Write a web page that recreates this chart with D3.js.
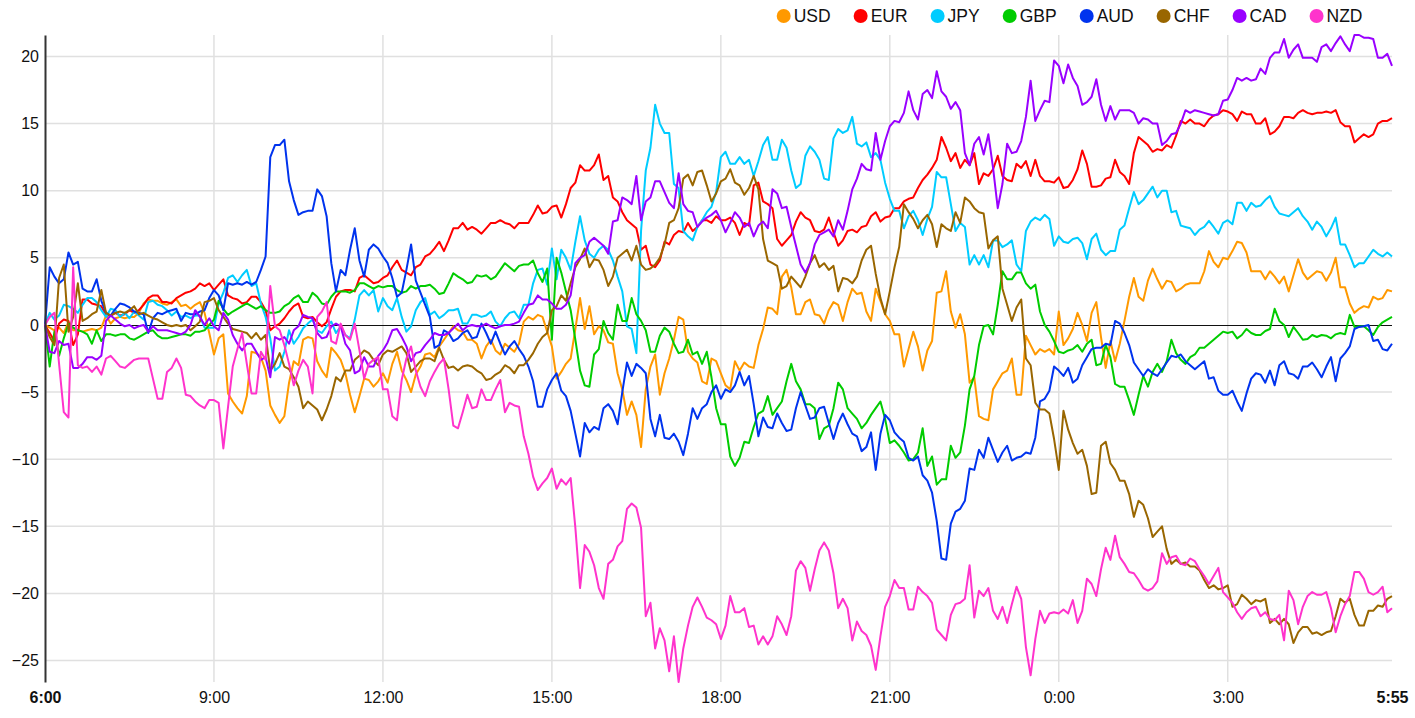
<!DOCTYPE html>
<html>
<head>
<meta charset="utf-8">
<script src="https://cdn.jsdelivr.net/npm/d3@7"></script>
<style>
  html, body { margin: 0; padding: 0; background: #ffffff; }
  svg { display: block; font-family: Arial, "Liberation Sans", Helvetica, sans-serif; }
</style>
</head>
<body>
<svg id="chart" width="1415" height="718"></svg>
<script>
// ---------- data ----------
const currencies = ["USD", "EUR", "JPY", "GBP", "AUD", "CHF", "CAD", "NZD"];
const startTime = "2024-01-01T06:00:00";
const stepMinutes = 5;
const xTickLabels = ["6:00", "9:00", "12:00", "15:00", "18:00", "21:00", "0:00", "3:00", "5:55"];
const yTickValues = [-25, -20, -15, -10, -5, 0, 5, 10, 15, 20];

const USD = [
  0,-0.2,-0.4,-0.2,-0.6,0.2,-0.4,-0.4,-0.5,-0.4,-0.3,-0.4,
  -0.2,0.7,0.1,0.5,0.6,0.5,0.6,0.6,0.9,1.6,1.9,1.8,
  1.8,1.6,1.5,1.7,1.9,1.4,1.5,1.2,1.5,1.7,0.9,-0.6,
  -2.2,-1.0,-0.7,-5.1,-5.7,-6.2,-6.6,-5.3,-2.0,-2.1,-2.4,-3.4,
  -6.0,-6.7,-7.3,-6.8,-4.3,-2.7,-3.0,-1.1,-0.9,-1.0,-2.7,-3.4,
  -3.9,-1.7,-2.1,-2.6,-3.6,-5.2,-6.5,-5.3,-4.0,-4.1,-4.6,-4.2,
  -3.6,-4.3,-2.9,-2.0,-3.4,-4.1,-5.0,-3.7,-3.1,-2.2,-2.1,-2.4,
  -1.6,-1.1,-0.6,-0.1,-0.4,-0.5,-1.1,-1.1,-1.4,-2.5,-1.6,-1.1,
  -1.9,-2.2,-1.4,-1.7,-2.0,-1.4,0.25,0.6,0.4,0.75,0.6,-0.5,
  -1.6,-4.0,-3.5,-2.9,-2.5,-0.3,2.0,-0.3,1.4,-0.7,-0.1,-0.4,
  -1.3,-1.4,-3.6,-4.8,-6.7,-5.7,-6.7,-9.1,-4.8,-3.1,-2.2,-5.2,
  -3.6,-2.5,-1.1,0.6,0.4,-2.0,-2.5,-2.8,-4.2,-4.4,-2.5,-2.7,
  -3.6,-4.5,-4.8,-2.7,-3.4,-2.8,-3.1,-3.2,-1.5,-0.3,1.3,1.2,
  0.8,3.6,4.1,2.8,0.8,0.8,1.7,1.9,0.8,0.7,0.1,1.1,
  1.7,1.5,0.3,1.7,2.7,2.3,2.4,1.0,0.3,2.7,1.8,0.8,
  0.3,-0.7,-0.7,-3.1,-1.8,-0.5,-1.6,-3.4,-1.9,-1.2,2.4,2.5,
  4.0,1.0,-0.2,0.8,-0.7,-4.3,-3.9,-6.8,-7.0,-7.1,-4.8,-4.2,
  -3.6,-3.4,-2.5,-5.2,-5.2,-0.8,-1.5,-2.2,-1.8,-2.0,-1.8,-2.2,
  1.0,-1.5,-1.0,-0.3,0.9,0,-1.2,0.9,1.7,-0.9,-3.2,-1.2,
  -2.7,-1.4,0.3,2.1,3.5,2.1,1.8,3.3,4.2,3.4,2.7,3.3,
  3.2,2.5,2.7,3.0,3.1,3.1,3.1,4.0,5.5,4.7,4.3,5.0,
  4.9,5.5,6.2,6.1,5.4,4.0,4.0,4.0,3.4,4.0,3.6,3.1,
  3.6,2.5,3.7,4.9,3.9,3.4,3.7,4.0,3.9,3.3,3.9,5.0,
  2.8,2.8,1.6,0.9,1.2,1.4,1.3,2.1,1.9,2.0,2.6,2.5
];

const EUR = [
  0,-0.6,-1.2,0.1,0.4,0.3,-1.5,-0.7,1.9,1.9,1.6,1.5,
  1.4,0.7,0.7,0.9,0.7,0.8,1.1,0.9,1.1,1.5,2.0,2.2,
  2.2,1.7,1.7,1.6,2.0,2.2,2.4,2.5,2.7,3.1,2.9,3.1,
  2.6,3.0,3.4,2.2,2.0,1.9,1.6,1.7,2.1,2.1,1.7,1.1,
  -0.4,-0.1,0.1,0.5,1.0,1.4,1.6,0.6,0.5,0.6,0.2,-0.1,
  0.2,1.2,2.1,2.5,2.6,2.6,2.5,3.5,3.7,3.4,3.1,3.2,
  3.5,3.7,4.3,4.8,4.1,3.9,3.7,4.3,4.5,5.1,5.3,5.7,
  6.2,5.5,6.3,7.2,7.2,7.6,7.1,7.3,7.1,6.8,7.2,7.6,
  7.6,7.8,7.6,7.5,7.2,7.6,7.6,7.6,8.2,8.9,8.3,8.4,
  8.8,8.9,8.0,9.0,10.2,10.6,11.9,11.5,11.5,11.9,12.7,10.8,
  11.1,9.5,9.2,8.4,7.8,7.5,7.2,5.6,5.9,4.5,4.3,4.8,
  6.2,6.0,6.7,7.0,6.9,7.6,7.0,7.3,7.8,7.8,7.6,8.1,
  7.8,7.8,8.0,7.6,6.7,7.6,7.4,10.4,10.6,9.2,9.0,8.7,
  6.4,5.9,6.3,6.7,7.7,8.4,8.0,7.8,7.0,6.9,7.1,8.0,
  6.9,5.9,6.3,7.0,7.1,6.9,7.3,7.4,8.1,8.4,7.7,8.0,
  8.1,8.7,8.7,9.2,9.4,9.5,10.2,10.8,11.2,11.7,12.3,14.0,
  13.2,12.2,12.8,11.7,12.3,11.9,12.8,10.5,11.3,11.1,11.6,12.6,
  11.1,10.8,10.7,12.0,11.7,12.2,11.1,12.3,11.1,10.7,10.7,10.6,
  11.0,10.2,10.3,10.8,11.6,13.0,12.0,10.3,10.3,10.4,10.9,11.0,
  12.3,11.4,11.1,10.5,12.8,14.0,13.7,13.4,12.9,13.1,13.0,13.4,
  13.2,14.1,15.2,15.0,15.3,15.0,15.0,14.8,15.3,15.6,15.7,16.0,
  15.9,15.7,15.2,15.9,15.7,15.7,15.0,15.0,15.4,14.2,14.4,14.8,
  15.5,15.5,15.4,15.8,16.0,15.8,15.7,15.8,15.8,15.9,15.8,16.0,
  15.1,14.8,14.8,13.6,13.9,14.2,14.0,14.2,15.0,15.2,15.2,15.4
];

const JPY = [
  0,0.9,0.4,0.7,1.5,1.4,1.2,0.9,1.5,2.0,2.0,1.7,
  1.1,0.6,1.2,1.1,0.6,0.9,0.5,1.0,0.7,0.4,1.7,1.8,
  1.5,1.4,1.1,0.7,1.0,0.6,0.7,0.5,0.7,0.7,-0.2,-0.2,
  -0.2,1.6,2.4,3.5,3.7,3.2,3.7,4.1,2.9,3.1,1.6,0.6,
  -1.0,-3.4,-3.1,-2.0,-0.4,-1.4,-0.9,-0.25,0.1,0.4,-0.4,-0.6,
  -0.1,0.25,-0.6,-0.1,-0.75,-1.0,0.4,2.2,2.6,2.2,2.6,1.0,
  2.0,1.4,1.1,2.0,0.6,-0.5,-0.1,1.1,1.7,2.0,0.75,1.0,
  0.5,0.75,1.1,1.1,1.2,0.1,0.1,0.75,0.75,0.6,0.7,1.0,
  0.25,-0.1,0.5,0.9,1.0,0.5,1.5,1.5,3.1,4.1,4.2,3.0,
  5.7,3.4,5.6,5.0,4.1,6.2,8.1,6.3,5.3,5.0,5.6,5.9,
  5.6,4.8,3.6,2.5,-0.1,-0.3,-2.1,7.0,11.5,13.2,16.4,15.0,
  14.3,14.3,10.5,10.2,7.0,6.6,6.3,7.3,7.8,8.4,8.8,9.9,
  12.5,12.9,12.0,12.0,12.5,12.0,12.3,11.1,12.2,13.4,14.0,12.3,
  12.3,13.8,13.2,11.5,10.2,10.5,12.6,13.3,12.9,12.3,10.9,10.8,
  13.9,14.6,14.3,14.5,15.5,13.5,13.3,13.6,12.5,12.8,12.3,10.6,
  9.4,8.5,8.5,7.2,8.1,8.5,7.8,6.7,7.9,8.8,11.4,11.0,
  11.0,9.0,7.0,7.6,7.3,4.5,5.2,4.5,5.2,4.3,6.3,6.3,
  5.8,6.0,6.3,4.5,4.0,7.0,7.7,8.0,7.8,8.2,7.9,5.9,
  6.6,6.2,6.1,6.4,6.5,6.1,4.9,6.4,6.8,5.6,5.2,5.5,
  5.5,7.1,7.4,8.7,9.9,9.0,9.3,9.8,10.3,9.5,10.0,10.0,
  8.4,8.5,7.4,7.3,7.2,6.7,7.1,7.3,7.75,7.3,6.8,7.6,
  7.8,7.5,9.1,9.1,8.5,9.1,8.8,8.9,9.3,9.6,8.8,8.3,
  8.2,8.1,8.4,8.7,8.1,7.7,7.1,7.7,7.3,6.6,7.2,8.0,
  6.0,6.0,5.2,4.3,4.6,4.6,5.1,5.6,5.3,5.1,5.4,5.1
];

const GBP = [
  0,-3.1,-0.5,-2.3,-1.0,0.1,-0.2,-0.4,-0.5,-0.7,-1.4,-0.4,
  -1.2,-0.7,-0.7,-0.8,-0.7,-0.7,-1.0,-1.1,-0.9,-0.7,-0.5,-0.4,
  -0.8,-1.0,-1.0,-0.9,-0.8,-0.7,-0.7,-0.8,-0.5,-0.5,-0.4,0,
  0.4,1.8,1.2,0.75,1.0,1.2,1.4,1.6,1.4,1.2,1.4,1.1,
  0.9,0.9,1.0,1.4,1.6,2.0,2.2,1.7,1.7,2.4,2.1,1.6,
  1.5,2.1,2.5,2.5,2.5,2.4,2.6,3.1,3.1,2.9,2.7,2.9,
  2.8,2.9,2.9,2.6,2.4,2.5,2.9,2.7,2.9,2.9,3.0,2.7,
  2.3,2.4,3.1,3.85,3.6,3.4,3.1,3.2,3.7,3.6,3.7,3.4,
  3.6,4.1,4.6,4.3,4.0,4.4,4.5,4.5,4.8,3.85,3.2,4.2,
  -1.1,5.0,3.9,2.5,1.1,-1.1,-3.4,-4.5,-4.6,-2.2,-1.8,0.3,
  -0.6,-1.1,1.5,0.3,0.3,2.0,0.8,0.3,-0.4,-2.0,-2.0,-0.8,
  -0.2,-0.5,-1.4,-2.1,-2.0,-1.1,-2.2,-2.0,-2.9,-2.0,-3.9,-6.2,
  -7.4,-7.4,-9.8,-10.5,-9.9,-8.7,-8.8,-7.6,-6.6,-6.4,-5.3,-6.7,
  -6.2,-5.7,-4.2,-2.9,-4.2,-4.8,-5.9,-5.9,-6.2,-8.5,-7.7,-7.5,
  -6.2,-4.3,-4.8,-6.2,-6.6,-7.0,-7.7,-7.3,-6.7,-6.2,-5.7,-7.0,
  -8.8,-8.6,-9.0,-9.5,-10.1,-10.0,-9.5,-7.7,-10.5,-9.8,-11.9,-11.5,
  -11.5,-9.0,-9.9,-9.5,-7.5,-4.8,-3.8,-1.5,-0.1,0,-0.7,1.5,
  4.0,3.4,3.4,3.9,3.9,3.1,2.7,3.0,1.0,0.0,-0.5,-1.2,
  -2.0,-2.1,-1.9,-1.8,-1.5,-2.0,-1.4,-1.1,-3.0,-2.9,-1.5,-2.4,
  -4.4,-4.6,-4.6,-5.6,-6.7,-5.2,-3.8,-4.6,-3.5,-2.9,-3.5,-2.7,
  -1.1,-2.1,-2.6,-2.9,-2.4,-2.2,-1.7,-1.7,-1.4,-1.1,-0.8,-0.5,
  -0.6,-0.5,-1.0,-0.75,-0.3,-0.6,-0.75,-0.75,-0.45,-0.3,1.2,0.3,
  0,-0.9,-0.15,-0.6,-1.1,-1.05,-0.75,-0.9,-0.75,-0.8,-1.0,-0.7,
  -0.6,-0.7,0.75,-0.15,-0.1,-0.1,-0.4,-0.75,-0.15,0.2,0.4,0.6
];

const AUD = [
  0,4.3,3.6,3.1,3.4,5.4,4.5,4.7,2.7,2.5,2.5,3.4,
  1.8,0.9,0.7,1.2,1.6,1.5,1.3,1.0,0.9,0.8,-0.6,0.5,
  0.9,0.8,1.0,1.1,1.2,0.3,0.9,0.8,0.8,1.0,1.1,2.0,
  2.6,2.2,1.1,3.1,3.0,3.1,3.0,3.2,3.0,3.2,4.1,5.1,
  12.5,13.4,13.4,13.8,10.7,9.3,8.2,8.4,8.5,8.5,10.1,9.6,
  8.1,4.6,2.5,4.1,3.7,5.6,7.2,4.8,3.6,5.6,6.0,5.7,
  5.1,4.6,3.5,2.1,2.4,4.1,6.0,3.3,2.4,1.5,0.6,-1.7,
  -1.5,-0.4,-0.6,-1.2,-1.0,-0.6,-0.4,-1.0,-0.9,0.1,-0.6,-1.4,
  -0.5,-1.4,-2.2,-1.6,-1.2,-1.8,-2.3,-3.1,-4.2,-6.1,-6.1,-4.8,
  -4.1,-3.6,-4.9,-5.3,-6.4,-8.1,-9.8,-7.3,-8.0,-7.6,-7.8,-6.2,
  -5.9,-6.4,-7.4,-5.0,-2.8,-3.8,-2.9,-3.2,-3.6,-7.0,-8.3,-6.7,
  -8.4,-8.5,-8.1,-8.7,-9.7,-8.1,-6.2,-7.0,-6.2,-5.9,-5.0,-4.5,
  -5.5,-4.8,-5.0,-4.5,-3.5,-4.5,-3.8,-5.9,-8.3,-6.9,-7.6,-7.7,
  -6.6,-7.3,-7.9,-7.8,-6.2,-5.0,-6.0,-7.0,-6.9,-6.2,-6.1,-7.3,
  -8.5,-7.3,-6.6,-7.4,-8.1,-8.3,-9.4,-9.1,-8.0,-10.8,-8.1,-6.7,
  -7.1,-8.0,-8.4,-8.7,-9.9,-10.1,-9.8,-11.2,-11.6,-12.5,-14.6,-17.4,
  -17.5,-14.8,-13.9,-13.7,-13.1,-10.7,-10.8,-9.3,-9.9,-8.4,-9.3,-10.2,
  -9.5,-9.0,-10.1,-9.9,-9.8,-9.5,-9.6,-8.4,-5.7,-5.5,-4.9,-3.1,
  -3.4,-3.8,-3.2,-4.3,-4.0,-3.0,-2.4,-1.8,-1.7,-1.7,-1.4,-1.5,
  0.3,0.1,-0.6,-1.5,-2.8,-3.3,-3.8,-3.3,-3.6,-3.8,-3.3,-2.8,
  -2.3,-2.4,-2.2,-2.7,-3.0,-3.3,-3.0,-2.7,-4.0,-3.9,-4.9,-5.2,
  -5.2,-4.9,-5.7,-6.4,-5.1,-4.0,-3.6,-3.7,-4.3,-3.4,-4.5,-3.0,
  -2.7,-3.6,-3.7,-4.0,-3.1,-3.1,-2.8,-3.3,-3.9,-3.1,-2.4,-4.2,
  -2.5,-2.1,-1.6,-0.3,-0.15,-0.1,0,-1.2,-1.1,-1.8,-1.9,-1.4
];

const CHF = [
  0,-0.9,-1.5,3.5,4.5,-0.5,0.6,3.1,0.3,0.5,0.8,1.0,
  2.6,0.9,0.7,0.9,1.0,0.9,1.1,1.4,0.8,0.9,0.7,0.5,
  0.4,0.2,0,-0.1,0,-0.1,0,-0.4,-0.1,0.25,1.7,1.8,
  2.0,1.1,0.6,0.1,-0.3,-0.4,-0.5,-0.6,-1.0,-0.6,-1.1,-0.75,
  -3.4,-2.9,-2.1,-3.1,-3.3,-3.9,-4.6,-6.2,-5.7,-6.0,-6.3,-7.1,
  -6.3,-5.3,-3.9,-4.2,-3.4,-3.4,-2.6,-2.3,-1.9,-2.1,-2.6,-3.0,
  -2.2,-1.9,-2.0,-1.8,-1.6,-2.1,-3.5,-3.1,-2.7,-2.5,-2.5,-2.7,
  -1.7,-2.6,-3.2,-3.1,-3.4,-3.1,-3.0,-3.1,-3.4,-3.6,-4.1,-4.0,
  -3.7,-3.5,-3.0,-3.2,-3.6,-3.0,-3.0,-2.6,-2.1,-1.4,-0.9,-0.6,
  1.1,1.4,2.2,1.8,3.1,4.3,4.9,5.7,4.3,4.9,4.8,4.1,
  2.9,3.6,5.0,5.3,5.6,4.8,5.9,4.5,4.1,4.2,4.5,5.0,
  6.0,7.6,7.8,8.7,10.9,11.2,10.4,11.4,11.5,10.4,9.2,9.8,
  10.7,10.9,11.6,10.6,10.4,9.7,10.2,11.1,10.1,6.4,4.8,4.6,
  4.4,2.7,2.9,3.6,3.2,2.8,3.6,4.6,5.2,4.3,4.6,4.1,
  4.4,2.5,3.5,3.4,3.1,3.6,4.8,5.6,5.9,3.8,2.0,0.8,
  2.5,4.3,5.8,9.0,8.4,7.9,7.2,7.8,8.2,7.5,5.8,7.5,
  7.2,7.0,8.4,7.6,9.5,9.2,8.7,8.4,8.3,5.7,6.3,6.6,
  2.7,1.5,0.3,1.3,1.9,-2.5,-3.0,-5.8,-6.3,-6.3,-6.6,-8.5,
  -10.8,-6.4,-7.8,-8.8,-9.6,-9.3,-10.5,-12.6,-12.5,-9.0,-8.7,-10.3,
  -10.8,-11.6,-11.6,-12.6,-14.3,-13.1,-13.4,-14.4,-15.8,-15.4,-15.0,-16.7,
  -17.8,-17.5,-17.8,-17.7,-18.0,-18.0,-18.3,-19.0,-19.6,-19.4,-19.7,-19.6,
  -19.4,-21.0,-20.8,-20.1,-20.4,-20.8,-20.5,-20.6,-20.4,-22.2,-21.9,-22.3,
  -21.9,-22.3,-23.7,-22.9,-22.5,-22.5,-23.0,-22.9,-23.1,-22.9,-22.8,-21.7,
  -20.4,-20.7,-20.4,-21.6,-22.4,-22.4,-21.3,-21.3,-20.9,-21.0,-20.4,-20.2
];

const CAD = [
  0,-2.0,-2.1,-1.2,-1.5,-1.4,-3.2,-3.2,-2.9,-2.4,-2.4,-2.6,
  -2.3,0.3,0.7,0.4,0.1,-0.1,0,-0.25,-0.1,0,-0.5,-0.1,
  -0.4,-0.4,-0.4,-0.5,-0.6,-0.7,-0.5,0,1.1,0.6,0,0.5,
  -0.1,-0.4,0.9,0.4,-0.75,-1.4,-1.9,-1.4,-1.4,-2.0,-2.6,-2.4,
  -3.9,-0.9,-1.1,-0.9,-1.4,-0.4,-0.1,0.75,0.6,0.5,-0.6,-1.0,
  -0.9,-0.1,0.1,-0.1,-1.4,-1.9,-3.6,-3.4,-2.4,-3.1,-3.1,-2.3,
  -1.9,-1.3,-0.4,-0.3,-0.9,-1.6,-2.7,-2.1,-2.0,-1.5,-1.1,-0.6,
  -0.75,-0.75,-0.6,-0.25,0.1,-0.4,-0.1,0,-0.1,-0.1,0.1,-0.1,
  -0.25,-0.1,0,0,0.1,0.25,0.9,1.5,1.6,2.2,1.9,1.9,
  1.6,1.2,1.2,1.5,2.2,4.6,5.0,5.2,6.2,6.5,6.2,5.9,
  5.3,7.7,7.8,9.5,9.3,9.0,11.1,7.8,9.2,9.5,10.7,10.7,
  9.9,9.1,8.7,11.3,9.0,8.5,8.4,7.3,7.7,8.0,8.2,8.5,
  7.8,6.9,7.6,8.4,8.0,7.3,7.6,6.6,7.4,7.7,7.2,10.1,
  9.8,8.7,8.8,7.3,5.9,4.5,3.9,4.6,6.0,6.7,6.9,7.1,
  6.6,7.8,7.1,8.5,10.1,10.9,12.0,11.6,11.5,14.3,12.3,13.7,
  14.8,15.2,15.1,15.8,17.4,16.0,15.3,17.2,17.5,16.9,18.9,17.4,
  17.0,16.1,16.6,16.0,12.8,11.9,13.5,14.0,12.7,14.2,11.7,8.7,
  10.5,13.5,12.8,12.9,13.7,15.5,18.2,15.2,16.0,16.7,16.6,19.7,
  19.3,18.0,19.4,18.4,17.8,16.4,16.6,17.0,18.3,16.4,15.2,16.3,
  15.3,16.0,16.0,16.0,15.8,15.0,15.4,15.3,15.0,15.0,13.4,13.7,
  14.2,14.3,15.0,16.0,15.8,16.0,15.9,15.8,15.7,15.6,15.7,16.7,
  16.8,17.5,18.4,18.2,18.4,18.2,18.3,19.1,18.7,19.9,20.3,20.3,
  21.3,19.9,20.5,20.9,19.9,19.9,19.9,19.6,20.7,20.9,20.4,21.0,
  21.5,20.9,20.4,21.6,21.6,21.4,21.4,21.3,19.9,19.9,20.2,19.3
];

const NZD = [
  0,0.6,0.9,-2.9,-6.5,-6.9,4.3,-3.0,-3.2,-3.1,-3.5,-3.1,
  -3.7,-2.5,-2.3,-2.7,-3.1,-3.2,-2.9,-2.6,-2.5,-2.5,-2.5,-4.0,
  -5.5,-5.5,-3.5,-3.2,-2.5,-3.2,-5.2,-5.3,-5.7,-6.0,-6.2,-5.6,
  -5.6,-5.8,-9.2,-6.1,-3.1,-1.8,-0.6,-2.9,-5.1,-5.1,-2.0,-2.6,
  2.9,-0.1,-0.4,-1.5,-2.9,-4.5,-3.4,-2.6,-3.1,-5.1,0.6,1.0,
  1.7,-1.2,-1.4,0.1,-0.75,-1.1,0.1,-1.9,-4.0,-2.9,-2.6,-2.4,
  -4.8,-4.8,-6.8,-7.1,-4.1,-2.5,-1.6,-3.4,-4.6,-5.3,-4.2,-3.5,
  -2.9,-2.5,-4.8,-7.5,-7.7,-6.5,-5.2,-6.2,-6.1,-4.8,-5.6,-5.6,
  -4.8,-4.1,-6.5,-5.8,-6.0,-6.1,-8.3,-9.6,-11.3,-12.3,-11.8,-11.4,
  -10.7,-12.2,-11.5,-11.9,-11.4,-15.1,-19.6,-16.4,-16.9,-17.9,-19.6,-20.4,
  -17.8,-17.5,-16.5,-16.1,-13.7,-13.3,-13.6,-15.1,-21.7,-20.7,-24.1,-22.6,
  -23.5,-25.8,-23.2,-26.6,-24.1,-22.4,-21.0,-20.3,-21.0,-21.8,-22.0,-22.3,
  -23.4,-22.4,-20.2,-21.4,-21.4,-21.1,-22.5,-22.4,-23.8,-23.2,-23.8,-23.2,
  -21.7,-22.3,-23.1,-21.7,-18.3,-17.6,-18.1,-19.8,-18.2,-16.8,-16.2,-16.8,
  -18.5,-21.1,-20.4,-21.1,-23.5,-22.1,-22.8,-23.1,-23.9,-25.7,-23.2,-21.0,
  -20.2,-19.0,-19.6,-19.6,-21.2,-21.2,-19.5,-19.9,-20.2,-20.7,-22.7,-23.1,
  -23.5,-21.6,-20.8,-20.7,-20.4,-17.9,-21.8,-19.8,-20.2,-19.6,-21.3,-21.9,
  -21.0,-22.2,-20.8,-19.5,-20.4,-24.0,-26.1,-23.4,-21.3,-22.2,-21.5,-21.4,
  -21.5,-21.2,-21.5,-20.5,-22.2,-21.3,-18.9,-19.3,-20.2,-18.2,-16.6,-17.5,
  -15.7,-17.3,-17.8,-18.4,-18.5,-19.0,-19.6,-19.8,-19.6,-19.1,-17.0,-17.8,
  -17.3,-17.2,-17.8,-17.9,-17.4,-17.6,-18.2,-18.7,-19.3,-18.7,-18.1,-19.9,
  -20.3,-20.7,-21.4,-21.9,-21.4,-21.1,-21.0,-21.7,-21.4,-21.9,-22.0,-21.6,
  -23.5,-19.8,-20.5,-22.3,-21.0,-20.2,-19.9,-20.1,-20.1,-19.9,-21.1,-22.9,
  -21.7,-20.8,-20.2,-18.4,-18.4,-18.9,-19.9,-20.1,-19.9,-19.5,-21.4,-21.1
];

// ---------- styling ----------
const seriesColors = {
  USD: "#ff9900", EUR: "#ff0000", JPY: "#00ccff", GBP: "#00cc00",
  AUD: "#0033ee", CHF: "#996600", CAD: "#9900ff", NZD: "#ff33cc"
};
const seriesValues = { USD, EUR, JPY, GBP, AUD, CHF, CAD, NZD };

const plot = { left: 45, right: 1392, top: 35, bottom: 682 };
const FONT = "Arial, 'Liberation Sans', sans-serif";

const svg = d3.select("#chart");

// time index
const t0 = new Date(startTime);
const times = USD.map((_, i) => new Date(t0.getTime() + i * stepMinutes * 60000));

function labelToDate(lbl) {
  const [h, m] = lbl.split(":").map(Number);
  const d = new Date(t0);
  if (h < 6) d.setDate(d.getDate() + 1);
  d.setHours(h, m, 0, 0);
  return d;
}
const xTickDates = xTickLabels.map(labelToDate);

const allValues = currencies.flatMap(c => seriesValues[c]);

const x = d3.scaleTime()
  .domain([times[0], times[times.length - 1]])
  .range([plot.left, plot.right]);

const y = d3.scaleLinear()
  .domain(d3.extent(allValues))
  .range([plot.bottom, plot.top]);

// horizontal gridlines
svg.append("g")
  .selectAll("line")
  .data(yTickValues.filter(v => v !== 0))
  .join("line")
  .attr("x1", plot.left).attr("x2", plot.right)
  .attr("y1", d => y(d)).attr("y2", d => y(d))
  .attr("stroke", "#e0e0e0").attr("stroke-width", 1.5);

// vertical gridlines
svg.append("g")
  .selectAll("line")
  .data(xTickDates.slice(1, -1))
  .join("line")
  .attr("x1", d => x(d)).attr("x2", d => x(d))
  .attr("y1", plot.top).attr("y2", plot.bottom)
  .attr("stroke", "#e0e0e0").attr("stroke-width", 1.5);

// zero line
svg.append("line")
  .attr("x1", plot.left).attr("x2", plot.right)
  .attr("y1", Math.round(y(0)) + 0.5).attr("y2", Math.round(y(0)) + 0.5)
  .attr("stroke", "#111").attr("stroke-width", 1);

// lines
const line = d3.line()
  .x((d, i) => x(times[i]))
  .y(d => y(d));

svg.append("g")
  .selectAll("path")
  .data(currencies)
  .join("path")
  .attr("fill", "none")
  .attr("stroke", c => seriesColors[c])
  .attr("stroke-width", 2)
  .attr("stroke-linejoin", "round")
  .attr("d", c => line(seriesValues[c]));

// y axis
const yAxis = svg.append("g")
  .attr("transform", `translate(${plot.left},0)`)
  .call(d3.axisLeft(y).tickValues(yTickValues).tickSize(0).tickPadding(6).tickFormat(d3.format("d")));
yAxis.select(".domain").attr("stroke", "#333").attr("stroke-width", 2);
yAxis.selectAll("text")
  .attr("font-size", 16)
  .attr("font-family", FONT)
  .attr("fill", "#111");

// x axis (labels only)
const xAxis = svg.append("g")
  .attr("transform", `translate(0,${plot.bottom})`)
  .call(d3.axisBottom(x).tickValues(xTickDates).tickSize(0).tickPadding(10)
    .tickFormat((d, i) => xTickLabels[i]));
xAxis.select(".domain").remove();
xAxis.selectAll("text")
  .attr("font-size", 16)
  .attr("font-family", FONT)
  .attr("fill", "#111")
  .attr("font-weight", (d, i) => (i === 0 || i === xTickLabels.length - 1) ? "bold" : "normal");

// legend
const legend = svg.append("g");
let cx = 783.7;
currencies.forEach(c => {
  const g = legend.append("g");
  g.append("circle")
    .attr("cx", cx).attr("cy", 16).attr("r", 7)
    .attr("fill", seriesColors[c]);
  const t = g.append("text")
    .attr("x", cx + 10).attr("y", 21.5)
    .attr("font-size", 17.5)
    .attr("font-family", FONT)
    .attr("fill", "#111")
    .text(c);
  const w = t.node().getComputedTextLength();
  cx = cx + 10 + w + 30;
});
</script>
</body>
</html>
